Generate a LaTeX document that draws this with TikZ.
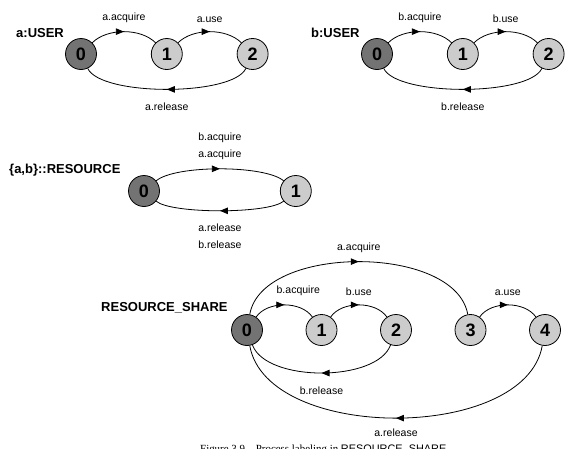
\documentclass[tikz,border=0pt]{standalone}
\usepackage{fontspec}
\setmainfont{Liberation Serif}
\setsansfont{Liberation Sans}
\usetikzlibrary{arrows.meta, positioning, decorations.markings}
\definecolor{initgray}{gray}{0.45}
\definecolor{stategray}{gray}{0.8}
\tikzset{
    st/.style={circle, draw=black, line width=0.8pt, fill=stategray, minimum size=31pt, inner sep=0pt, font=\sffamily\bfseries\fontsize{18}{18}\selectfont},
    st0/.style={st, fill=initgray},
    procname/.style={anchor=west, inner sep=0pt, font=\sffamily\bfseries\fontsize{13}{15}\selectfont},
    act/.style={inner sep=0pt, align=center, font=\sffamily\fontsize{10.5}{17}\selectfont},
    trans/.style={line width=0.8pt, postaction={decorate}, decoration={markings, mark=at position 0.5 with {\arrow{Triangle[length=8pt,width=6.5pt]}}}}
}

\begin{document}
\begin{tikzpicture}[x=1pt, y=1pt]
\useasboundingbox (0,0) rectangle (572,-448);

% Nodes
\node (aname) [procname] at (16,-33) {a:USER};
\node (a0) [st0] at (81,-54) {0};
\node (a1) [st, right=54pt of a0] {1};
\node (a2) [st, right=54pt of a1] {2};

\node (bname) [procname] at (311,-33) {b:USER};
\node (b0) [st0] at (377,-54) {0};
\node (b1) [st, right=54pt of b0] {1};
\node (b2) [st, right=54pt of b1] {2};

\node (rname) [procname] at (9,-170) {\{a,b\}::RESOURCE};
\node (r0) [st0] at (144,-191) {0};
\node (r1) [st, right=120pt of r0] {1};

\node (sname) [procname] at (101,-308) {RESOURCE\_SHARE};
\node (s0) [st0] at (247,-330) {0};
\node (s1) [st, right=42.7pt of s0] {1};
\node (s2) [st, right=42.7pt of s1] {2};
\node (s3) [st, right=42.7pt of s2] {3};
\node (s4) [st, right=42.7pt of s3] {4};

\node (caption) [anchor=base west, inner sep=0pt, font=\fontsize{10.9}{12}\selectfont] at (200,-452) {Figure 3.9\quad Process labeling in \textsf{RESOURCE\_SHARE}};

% Connectors
\draw [trans] (a0) to[out=45, in=135, looseness=0.85] node (la1) [act, above=9pt] {a.acquire} (a1);
\draw [trans] (a1) to[out=45, in=135, looseness=0.85] node (la2) [act, above=9pt] {a.use} (a2);
\draw [trans] (a2) to[out=-115, in=-65, looseness=0.5] node (la3) [act, below=13pt] {a.release} (a0);

\draw [trans] (b0) to[out=45, in=135, looseness=0.85] node (lb1) [act, above=9pt] {b.acquire} (b1);
\draw [trans] (b1) to[out=45, in=135, looseness=0.85] node (lb2) [act, above=9pt] {b.use} (b2);
\draw [trans] (b2) to[out=-115, in=-65, looseness=0.5] node (lb3) [act, below=13pt] {b.release} (b0);

\draw [trans] (r0) to[out=40, in=140, looseness=0.5] node (lr1) [act, above=9pt] {b.acquire\\a.acquire} (r1);
\draw [trans] (r1) to[out=-140, in=-40, looseness=0.4] node (lr2) [act, below=13pt] {a.release\\b.release} (r0);

\draw [trans] (s0) to[out=55, in=125, looseness=0.9] node (ls1) [act, above=9pt, xshift=14pt] {b.acquire} (s1);
\draw [trans] (s1) to[out=55, in=125, looseness=0.9] node (ls2) [act, above=9pt] {b.use} (s2);
\draw [trans] (s2) to[out=-110, in=-70, looseness=0.74] node (ls3) [act, below=13pt] {b.release} (s0);
\draw [trans] (s0) to[out=80, in=100, looseness=0.84] node (ls4) [act, above=9pt] {a.acquire} (s3);
\draw [trans] (s3) to[out=55, in=125, looseness=0.9] node (ls5) [act, above=9pt] {a.use} (s4);
\draw [trans] (s4) to[out=-100, in=-80, looseness=0.86] node (ls6) [act, below=10pt] {a.release} (s0);

\end{tikzpicture}
\end{document}
